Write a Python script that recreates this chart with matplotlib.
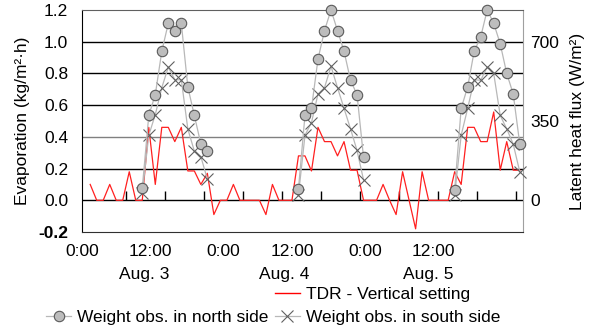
import numpy as np
import matplotlib
matplotlib.use("Agg")
from matplotlib import pyplot as plt
from matplotlib.lines import Line2D

plt.rcParams['font.family'] = ['Liberation Sans', 'DejaVu Sans']
plt.rcParams['font.size'] = 12.5

# hourly TDR evaporation (kg/m2 h), index 0..66
tdr = [0.1, 0, 0, 0.1, 0, 0, 0.18, 0, 0,
       0.46, 0.1, 0.46, 0.46, 0.37, 0.46, 0.185, 0.185, 0.1, 0.17,
       -0.09, 0, 0, 0.1, 0, 0, 0, 0, -0.09, 0.1, 0, 0, 0,
       0.28, 0.28, 0.185, 0.46, 0.37, 0.37, 0.28, 0.37, 0.19, 0.19, 0, 0, 0,
       0.1, 0.0, -0.09, 0.18, 0.0, -0.18, 0.18, 0, 0, 0, 0,
       0.18, 0.1, 0.46, 0.46, 0.37, 0.37, 0.557, 0.19, 0.37, 0.19, 0.19]

# weight observations, one list per day
obs_hours = [list(range(8, 19)), list(range(32, 43)), list(range(56, 67))]
north = [[0.076, 0.535, 0.666, 0.94, 1.116, 1.07, 1.116, 0.715, 0.535, 0.356, 0.31],
         [0.072, 0.535, 0.58, 0.89, 1.07, 1.2, 1.07, 0.94, 0.757, 0.666, 0.27],
         [0.065, 0.58, 0.715, 0.94, 1.03, 1.2, 1.116, 0.987, 0.80, 0.67, 0.356]]
south = [[0.044, 0.41, 0.54, 0.71, 0.84, 0.76, 0.76, 0.45, 0.31, 0.276, 0.133],
         [0.034, 0.41, 0.49, 0.67, 0.71, 0.845, 0.71, 0.58, 0.45, 0.314, 0.128],
         [0.034, 0.41, 0.58, 0.76, 0.757, 0.84, 0.80, 0.535, 0.45, 0.354, 0.18]]

time_labels = ['0:00', '12:00', '0:00', '12:00', '0:00', '12:00']
time_label_pos = [-1.26, 9.23, 20.47, 31.1, 42.2, 52.8]
day_labels = ['Aug. 3', 'Aug. 4', 'Aug. 5']
day_label_pos = [8.3, 29.8, 52.0]

left_ticks = [-0.2, 0.0, 0.2, 0.4, 0.6, 0.8, 1.0, 1.2]
right_ticks = [0, 350, 700]
w_per_kg = 700.0  # W/m2 per kg/(m2 h)

fig = plt.figure(figsize=(5.92, 3.29), dpi=100)
ax = fig.add_axes([82 / 592, 1 - 232 / 329, 441 / 592, 222 / 329])

ax.set_xlim(-0.5, len(tdr) - 0.5)
ax.set_ylim(-0.2, 1.2)
ax.set_yticks(left_ticks)
ax.set_yticklabels([f"{t:.1f}" for t in left_ticks])
ax.get_yticklabels()[0].set_fontweight('bold')
ax.tick_params(axis='y', length=0, pad=10)
ax.set_xticks(time_label_pos)
ax.set_xticklabels(time_labels)
ax.tick_params(axis='x', length=0, pad=9)

for t in left_ticks[1:-1]:
    ax.axhline(t, color='#808080' if abs(t - 0.4) < 1e-6 else 'black', lw=1, zorder=1)

# small ticks on the zero line every 6 hours
ax.vlines(np.arange(5.5, len(tdr), 6), 0, 0.057, color='black', lw=1, zorder=1)

for x, lab in zip(day_label_pos, day_labels):
    ax.text(x, -0.158, lab, transform=ax.get_xaxis_transform(),
            ha='center', va='top')

ax.plot(np.arange(len(tdr)), tdr, color='#ff2020', lw=0.9, zorder=2)
for hrs, vals in zip(obs_hours, south):
    ax.plot(hrs, vals, color='#b8b8b8', lw=0.9, marker='x', ms=8,
            mec='#606060', mew=0.8, zorder=3, clip_on=False)
for hrs, vals in zip(obs_hours, north):
    ax.plot(hrs, vals, color='#b8b8b8', lw=0.9, marker='o', ms=7.5,
            mfc='#bdbdbd', mec='#5a5a5a', mew=0.8, zorder=4, clip_on=False)

ax.set_ylabel('Evaporation (kg/m²·h)', labelpad=6)

ax2 = ax.twinx()
ax2.set_ylim(-0.2 * w_per_kg, 1.2 * w_per_kg)
ax2.set_yticks(right_ticks)
ax2.tick_params(axis='y', length=0, pad=5)
ax2.set_ylabel('Latent heat flux (W/m²)', labelpad=8)

ax.spines['left'].set_color('black')
ax.spines['bottom'].set_color('#303030')
ax.spines['top'].set_color('#606060')
ax.spines['right'].set_color('#a0a0a0')
for s in ax2.spines.values():
    s.set_visible(False)

blank = Line2D([], [], linestyle='none')
h_north = Line2D([], [], color='#b8b8b8', lw=0.9, marker='o', ms=7.5,
                 mfc='#bdbdbd', mec='#5a5a5a', mew=0.8)
h_tdr = Line2D([], [], color='#ff0000', lw=1)
h_south = Line2D([], [], color='#b8b8b8', lw=0.9, marker='x', ms=8,
                 mec='#606060', mew=0.8)
fig.legend([blank, h_north, h_tdr, h_south],
           ['', 'Weight obs. in north side', 'TDR - Vertical setting', 'Weight obs. in south side'],
           ncol=2, frameon=False, loc='upper left', bbox_to_anchor=(46 / 592, 1 - 287 / 329),
           handlelength=1.45, handletextpad=0.35, columnspacing=0.35,
           labelspacing=0.43, borderpad=0, borderaxespad=0)

fig.savefig('out.png', dpi=100)
